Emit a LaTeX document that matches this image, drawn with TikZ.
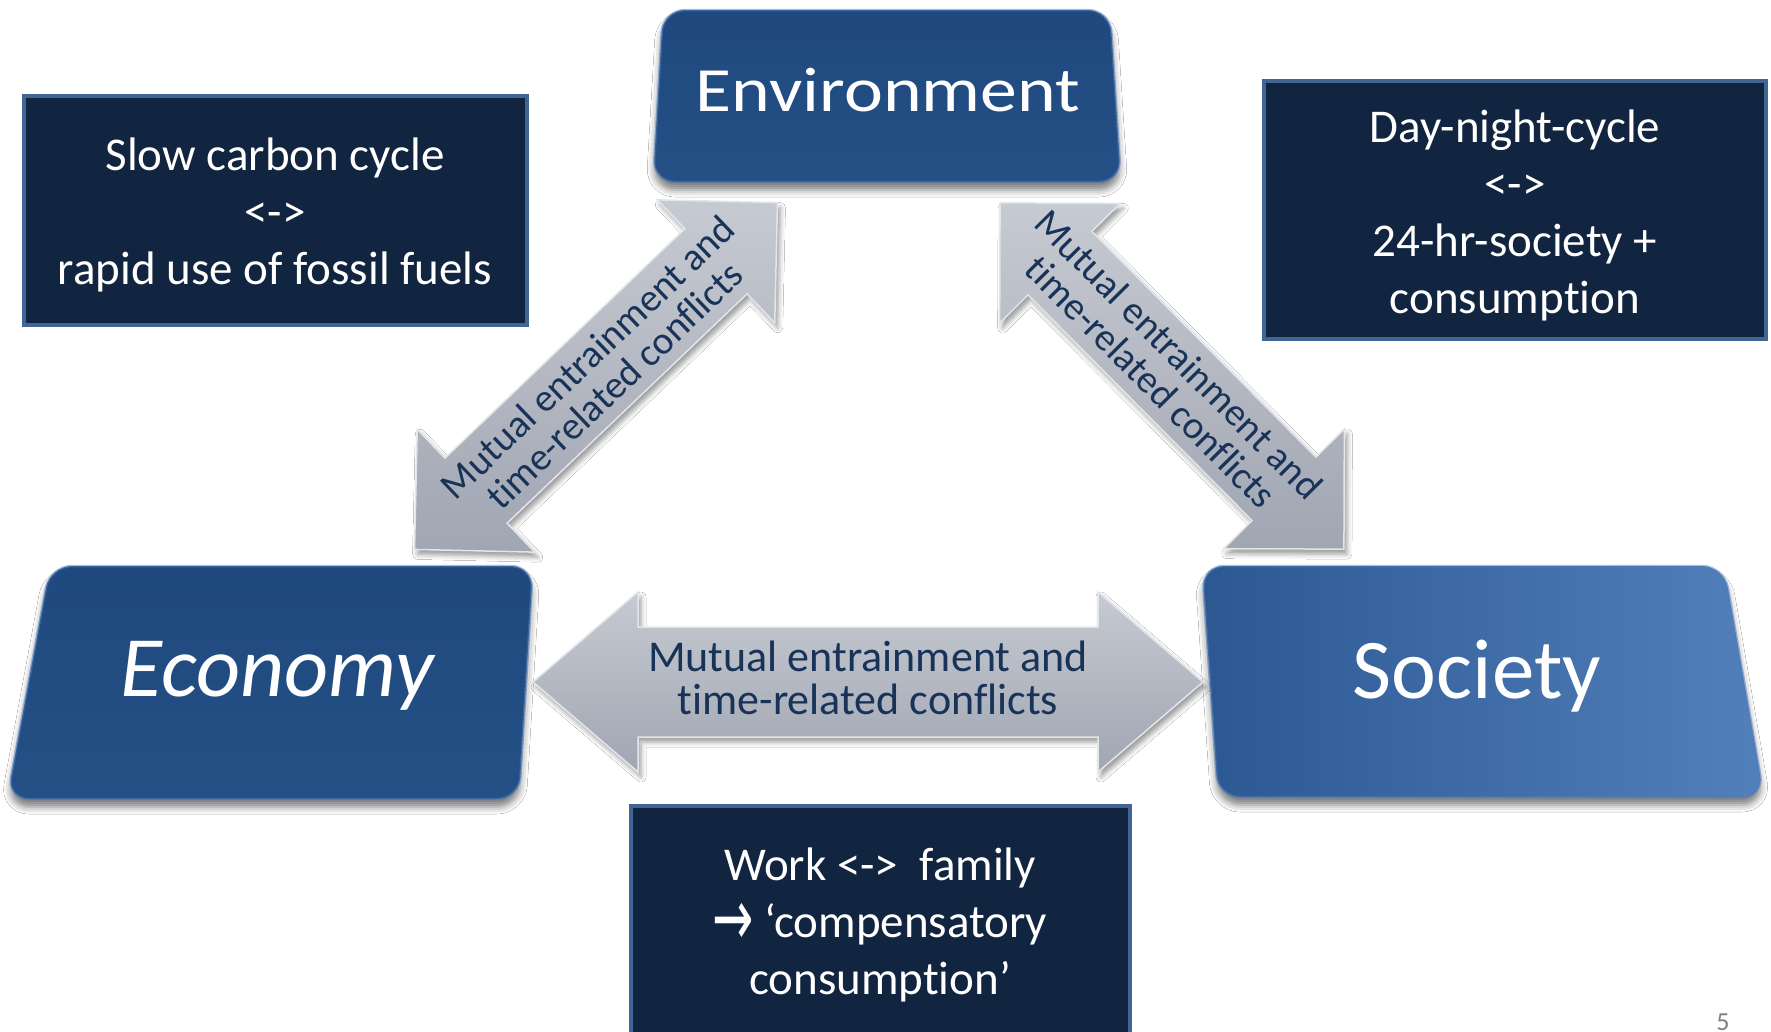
\documentclass[tikz,border=0pt]{standalone}
\usepackage{fontspec}
\setmainfont{Carlito}[Ligatures=NoCommon]
\newfontfamily\symfont{DejaVu Sans}
\usetikzlibrary{calc,shadows.blur}

\definecolor{navy}{RGB}{18,37,64}
\definecolor{steel}{RGB}{66,101,148}
\definecolor{boxblue}{RGB}{31,73,126}
\definecolor{boxblueB}{RGB}{36,80,134}
\definecolor{socL}{RGB}{44,88,146}
\definecolor{socR}{RGB}{82,128,187}
\definecolor{rimblue}{RGB}{78,124,186}
\definecolor{arrowlight}{RGB}{198,202,210}
\definecolor{arrowdark}{RGB}{160,166,178}
\definecolor{arrowedge}{RGB}{226,229,234}
\definecolor{arrowink}{RGB}{24,50,88}
\definecolor{pagegray}{RGB}{128,128,128}

\tikzset{
  bluebox/.style={rounded corners=22,
    blur shadow={shadow xshift=0pt,shadow yshift=-8pt,shadow blur radius=7pt,shadow opacity=50}},
  rim/.style={rounded corners=22, draw=rimblue, line width=2.5},
  darkbox/.style={fill=navy, draw=steel, line width=4},
  boxtext/.style={text=white, align=center, font=\fontsize{47}{57}\selectfont},
  bigtext/.style={text=white, inner sep=0pt},
  blockarrow/.style={top color=arrowlight, bottom color=arrowdark, draw=arrowedge, line width=1.5,
    blur shadow={shadow xshift=3pt,shadow yshift=-5pt,shadow blur radius=5pt,shadow opacity=40}},
  diagtext/.style={text=arrowink, align=center, font=\fontsize{39}{39}\selectfont},
  flattext/.style={text=arrowink, align=center, font=\fontsize{44}{43}\selectfont},
}

\begin{document}
\begin{tikzpicture}[x=1pt,y=-1pt]
\useasboundingbox (0,0) rectangle (1771,1031);
\clip (0,0) rectangle (1771,1031);
\fill[white] (0,0) rectangle (1771,1031);

% ---- main blocks ----
\path[bluebox, top color=boxblue, bottom color=boxblueB]
  (663,10) -- (1110,10) -- (1121,182) -- (653,182) -- cycle;
\draw[rim, draw opacity=0.5] (663,10) -- (1110,10) -- (1121,182) -- (653,182) -- cycle;
\node[bigtext, font=\fontsize{63}{70}\selectfont] (env) at (888,90) {\scalebox{1.17}[1]{Environment}};

\path[bluebox, top color=boxblue, bottom color=boxblueB]
  (50,566) -- (533,566) -- (519,799) -- (7,799) -- cycle;
\draw[rim, draw opacity=0.5] (50,566) -- (533,566) -- (519,799) -- (7,799) -- cycle;
\node[bigtext, font=\fontsize{86}{94}\itshape] (eco) at (277,676) {Economy};

\path[bluebox, left color=socL, right color=socR]
  (1202,566) -- (1724,566) -- (1764,797) -- (1218,797) -- cycle;
\draw[rim, draw opacity=0.5] (1202,566) -- (1724,566) -- (1764,797) -- (1218,797) -- cycle;
\node[bigtext, font=\fontsize{85}{94}\selectfont] (soc) at (1477,676) {Society};

% ---- double block arrows ----
% economy <-> environment
\begin{scope}[shift={(596,376)}, rotate=43.7]
  \path[blockarrow] (-251,0) -- (-166,-85) -- (-166,-45) -- (166,-45) -- (166,-85)
    -- (251,0) -- (166,85) -- (166,45) -- (-166,45) -- (-166,85) -- cycle;
\end{scope}
\node[diagtext, rotate=43.7] (ltext) at (601,371) {Mutual entrainment and\\time-related conflicts};

% environment <-> society
\begin{scope}[shift={(1172,376)}, rotate=-45.2]
  \path[blockarrow] (-244,0) -- (-159,-85) -- (-159,-45) -- (159,-45) -- (159,-85)
    -- (244,0) -- (159,85) -- (159,45) -- (-159,45) -- (-159,85) -- cycle;
\end{scope}
\node[diagtext, rotate=-45.2] (rtext) at (1165,368) {Mutual entrainment and\\time-related conflicts};

% economy <-> society
\begin{scope}[shift={(868,682)}]
  \path[blockarrow] (-335,0) -- (-230,-90) -- (-230,-55) -- (230,-55) -- (230,-90)
    -- (335,0) -- (230,90) -- (230,55) -- (-230,55) -- (-230,90) -- cycle;
\end{scope}
\node[flattext] (htext) at (868,678) {Mutual entrainment and\\time-related conflicts};

% ---- conflict boxes ----
\draw[darkbox] (24,96) rectangle (527,325);
\node[boxtext] (carbon) at (275,215) {Slow carbon cycle\\<->\\rapid use of fossil fuels};

\draw[darkbox] (1264,81) rectangle (1766,339);
\node[boxtext] (daynight) at (1515,215) {Day-night-cycle\\<->\\24-hr-society +\\consumption};

\draw[darkbox] (631,806) rectangle (1130,1060);
\node[boxtext] (work) at (880,925) {Work <->~~family\\{\symfont\raisebox{-0.17em}{\scalebox{1.05}[1.7]{→}}} ‘compensatory\\consumption’};

% ---- page number ----
\node[text=pagegray, font=\fontsize{26}{26}\selectfont, anchor=base] (pnum) at (1723,1030) {5};
\end{tikzpicture}
\end{document}
